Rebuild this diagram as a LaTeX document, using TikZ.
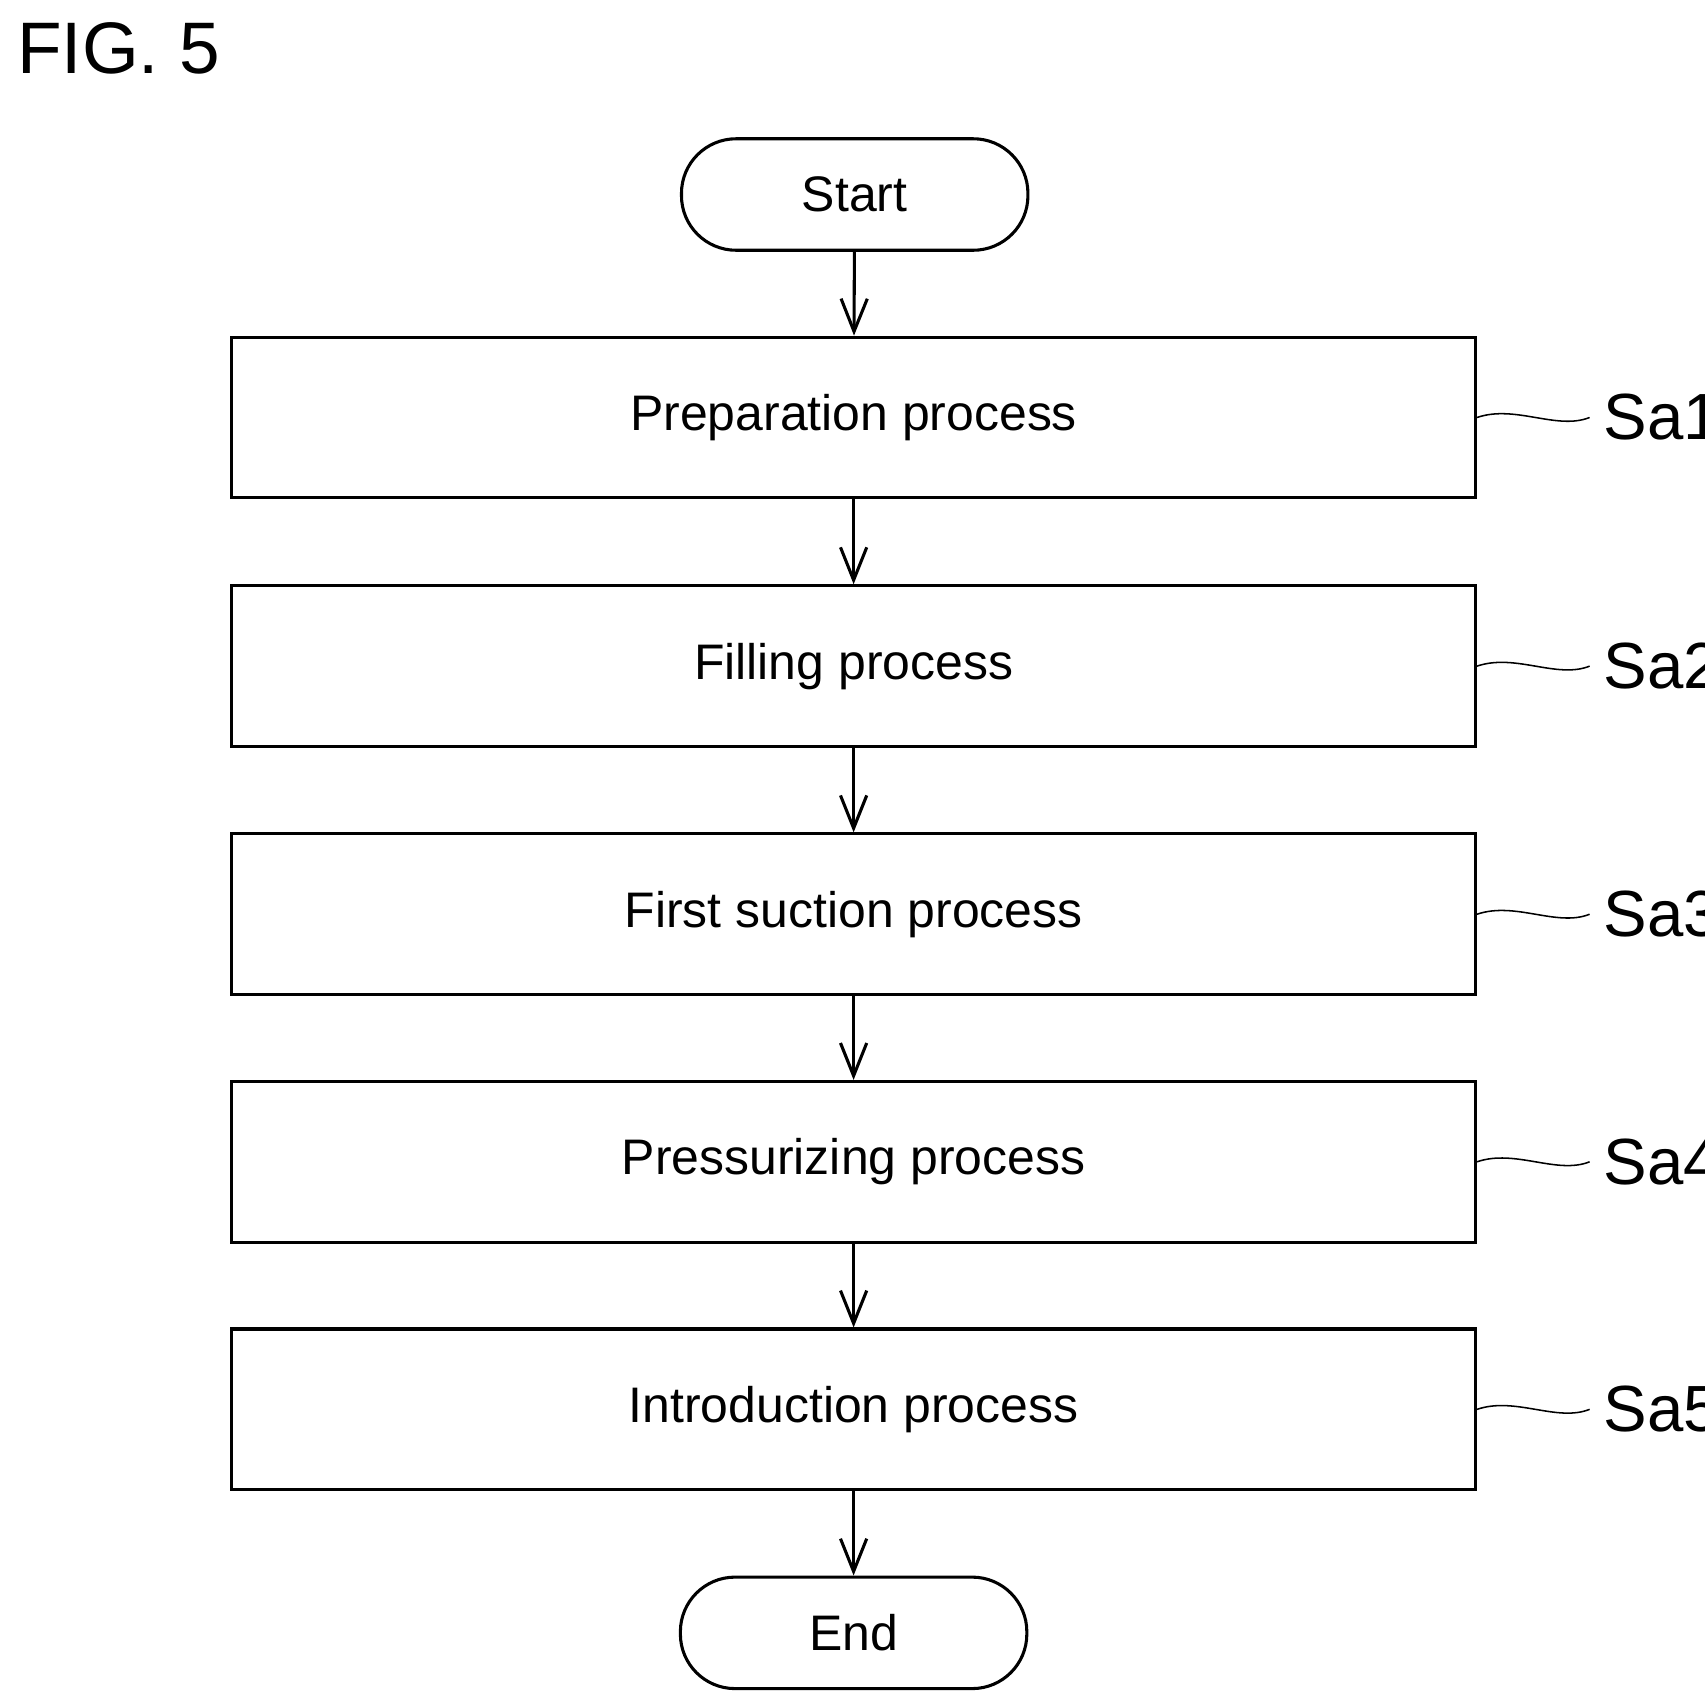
\documentclass[tikz,border=0pt]{standalone}
\usepackage{fontspec}
\setmainfont{Liberation Sans}
\usetikzlibrary{arrows.meta,positioning}
\begin{document}
\begin{tikzpicture}[
      proc/.style={rectangle,draw=black,thick,minimum width=11.38cm,minimum height=1.47cm,inner sep=0pt,font=\fontsize{13}{15}\selectfont},
      term/.style={rectangle,draw=black,thick,minimum width=3.17cm,minimum height=1.02cm,rounded corners=0.5cm,font=\fontsize{13}{15}\selectfont},
      arrow/.style={-{Straight Barb[length=3mm,width=2.4mm]},thick},
      tag/.style={anchor=west,inner sep=0pt,font=\fontsize{17}{19}\selectfont},
      leader/.style={thin}
    ]
    \useasboundingbox (0,0) rectangle (15.6,15.6);

    % Title
    \node[anchor=north west,inner sep=0pt,font=\fontsize{19}{21}\selectfont] (fig) at (0.15,15.4) {FIG. 5};

    % Terminals and steps
    \node[term] (start) at (7.82,13.82) {Start};
    \node[proc] (S1) at (7.81,11.78) {Preparation process};
    \node[proc] (S2) at (7.81,9.505) {Filling process};
    \node[proc] (S3) at (7.81,7.235) {First suction process};
    \node[proc] (S4) at (7.81,4.97) {Pressurizing process};
    \node[proc] (S5) at (7.81,2.705) {Introduction process};
    \node[term] (end) at (7.81,0.66) {End};

    \draw[arrow] (start) -- (S1);
    \draw[arrow] (S1) -- (S2);
    \draw[arrow] (S2) -- (S3);
    \draw[arrow] (S3) -- (S4);
    \draw[arrow] (S4) -- (S5);
    \draw[arrow] (S5) -- (end);

    % Step labels
    \foreach \i in {1,...,5} {
      \node[tag] (L\i) at ([xshift=1.15cm]S\i.east) {Sa\i};
      \draw[leader] (S\i.east) .. controls +(0.35,0.12) and +(-0.3,-0.12) .. ([xshift=-0.12cm]L\i.west);
    }

  \end{tikzpicture}
\end{document}
